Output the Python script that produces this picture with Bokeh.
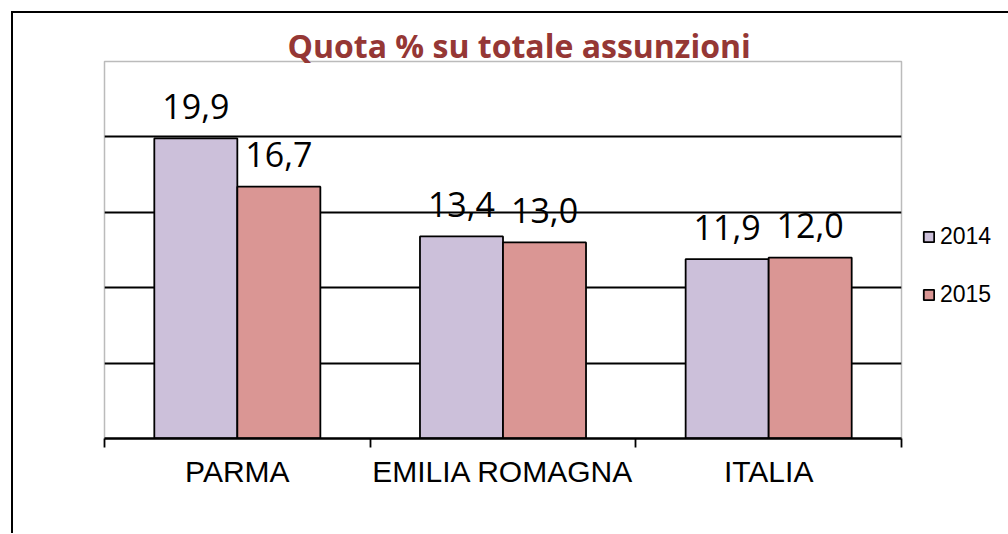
from bokeh.plotting import figure
from bokeh.models import (Range1d, FixedTicker, Legend, LegendItem, ColumnDataSource)
from bokeh.core.properties import value
from bokeh.embed import file_html
from bokeh.resources import INLINE

# ---- data ----
categories = ["PARMA", "EMILIA ROMAGNA", "ITALIA"]
series_names = ["2014", "2015"]
values_2014 = [19.9, 13.4, 11.9]
values_2015 = [16.7, 13.0, 12.0]
labels_2014 = ["19,9", "13,4", "11,9"]
labels_2015 = ["16,7", "13,0", "12,0"]
y_ticks = [5, 10, 15, 20]
title_text = "Quota % su totale assunzioni"

# ---- styling ----
col_2014 = "#CCC0DA"
col_2015 = "#DA9694"
bar_w = 0.3125
dodge = bar_w / 2

p = figure(frame_width=797, frame_height=377, output_backend="svg", toolbar_location=None,
           x_range=Range1d(0, len(categories)), y_range=Range1d(0, 25),
           y_axis_location=None,
           min_border_left=91, min_border_right=99, min_border_top=48, min_border_bottom=95,
           styles={"margin-left": "11px", "margin-top": "11px",
                   "border-left": "2px solid #000", "border-top": "2px solid #000"})
p.background_fill_color = "white"
p.border_fill_color = "white"
p.outline_line_color = "#BBBBBB"
p.outline_line_width = 1.5

# title
p.title.text = title_text
p.title.align = "left"
p.title.offset = 183
p.title.standoff = -11
p.title.vertical_align = "bottom"
p.title.text_font = "Open Sans"
p.title.text_font_style = "bold"
p.title.text_font_size = "32px"
p.title.text_color = "#953735"

centers = [i + 0.5 for i in range(len(categories))]
src14 = ColumnDataSource(dict(x=[c - dodge for c in centers], top=values_2014, lab=labels_2014))
src15 = ColumnDataSource(dict(x=[c + dodge for c in centers], top=values_2015, lab=labels_2015))

r14 = p.vbar(x="x", top="top", width=bar_w, bottom=0, source=src14,
             fill_color=col_2014, line_color="black", line_width=1.8)
r15 = p.vbar(x="x", top="top", width=bar_w, bottom=0, source=src15,
             fill_color=col_2015, line_color="black", line_width=1.8)

for s in (src14, src15):
    p.text(x="x", y="top", text="lab", source=s, text_align="center",
           text_baseline="alphabetic", y_offset=-32,
           text_font=value("Open Sans"), text_font_size="34px", text_color="black")

# grid
p.xgrid.visible = False
p.ygrid.ticker = FixedTicker(ticks=y_ticks)
p.ygrid.grid_line_color = "black"
p.ygrid.grid_line_width = 1.8

# x axis
ax = p.xaxis[0]
ax.ticker = FixedTicker(ticks=centers, minor_ticks=list(range(len(categories) + 1)))
ax.major_label_overrides = {c: name for c, name in zip(centers, categories)}
ax.major_tick_line_color = None
ax.major_tick_out = 0
ax.major_tick_in = 0
ax.minor_tick_line_color = "black"
ax.minor_tick_line_width = 1.8
ax.minor_tick_out = 9
ax.minor_tick_in = 0
ax.axis_line_color = "black"
ax.axis_line_width = 2.5
ax.major_label_text_font = "Liberation Sans"
ax.major_label_text_font_size = "30px"
ax.major_label_text_color = "black"
ax.major_label_standoff = 7

# legend
legend = Legend(items=[LegendItem(label=series_names[0], renderers=[r14]),
                       LegendItem(label=series_names[1], renderers=[r15])],
                location=(21, 130), orientation="vertical",
                glyph_width=13, glyph_height=13, label_standoff=5, spacing=31,
                padding=0, margin=0, border_line_color=None, background_fill_alpha=0,
                label_text_font="Liberation Sans", label_text_font_size="23px",
                label_text_color="black")
p.add_layout(legend, "right")

open("out.html", "w").write(file_html(p, INLINE))
